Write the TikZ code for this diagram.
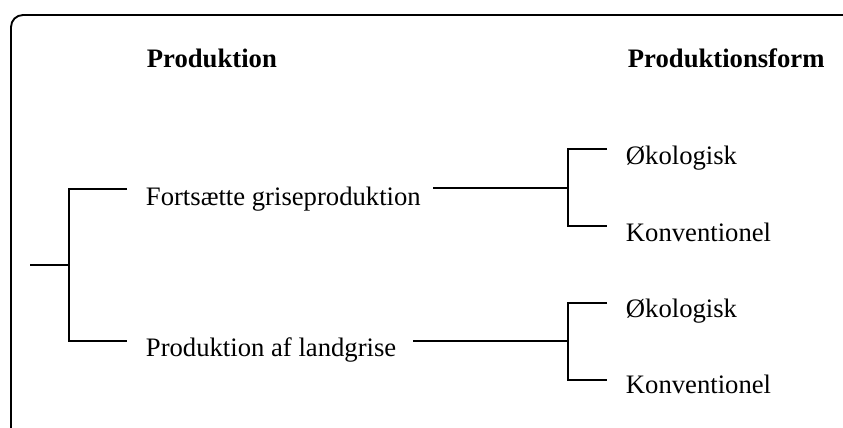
\documentclass[tikz,border=0pt]{standalone}
\usepackage{fontspec}
\setmainfont{Liberation Serif}
\begin{document}
\begin{tikzpicture}[x=0.75pt,y=-0.75pt,
  line width=1.4pt,
  label/.style={anchor=base west,inner sep=0pt,font=\fontsize{20}{24}\selectfont},
  header/.style={label,font=\fontsize{20}{24}\selectfont\bfseries}]
\useasboundingbox (0,0) rectangle (843,428);

% frame, open at the right and bottom
\draw[rounded corners=9pt] (11,428) -- (11,15) -- (843,15);

% column headings
\node[header] (h1) at (146,68) {Produktion};
\node[header] (h2) at (627,68) {Produktionsform};

% labels
\node[label] (fort) at (145,205) {Fortsætte griseproduktion};
\node[label] (land) at (145,356) {Produktion af landgrise};
\node[label] (oko1) at (625,165) {Økologisk};
\node[label] (kon1) at (625,241) {Konventionel};
\node[label] (oko2) at (625,317) {Økologisk};
\node[label] (kon2) at (625,393) {Konventionel};

% bracket joints and line ends
\coordinate (root) at (30,265);
\coordinate (j0) at (69,265);
\coordinate (a1) at (127,189);
\coordinate (a2) at (127,341);
\coordinate (b1) at (433,188);
\coordinate (jb) at (568,188);
\coordinate (c1) at (607,149);
\coordinate (c2) at (607,226);
\coordinate (b2) at (413,341);
\coordinate (jc) at (568,341);
\coordinate (c3) at (607,303);
\coordinate (c4) at (607,380);

% first level
\draw (root) -- (j0);
\draw (a1) -| (j0) |- (a2);

% second level
\draw (b1) -- (jb);
\draw (c1) -| (jb) |- (c2);
\draw (b2) -- (jc);
\draw (c3) -| (jc) |- (c4);
\end{tikzpicture}
\end{document}
